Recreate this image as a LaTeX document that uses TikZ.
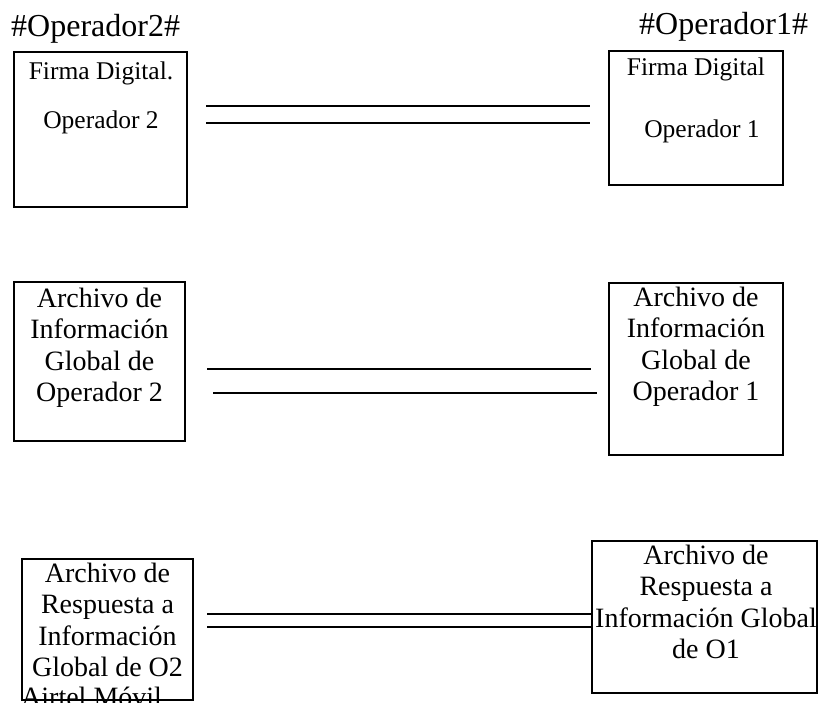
\documentclass[tikz,border=0pt]{standalone}
\usepackage{fontspec}
\setmainfont{Liberation Serif}
\usepackage{tikz}
\usetikzlibrary{positioning}
\tikzset{
  caja/.style={draw, rectangle, line width=1.8pt, inner sep=0pt, outer sep=0pt},
  texto/.style={align=center, inner sep=0pt, anchor=base, font=\fontsize{28}{31.5}\selectfont},
  textochico/.style={texto, font=\fontsize{25.5}{32}\selectfont},
  titulo/.style={anchor=base west, inner sep=0pt, font=\fontsize{32}{36}\selectfont},
  linea/.style={line width=2pt}
}

\begin{document}
\begin{tikzpicture}[x=1pt, y=-1pt]
   \useasboundingbox (0,0) rectangle (819,702);
   \clip (0,0) rectangle (819,702);
   % titulos
   \node[titulo] (tit2) at (11,36) {\#Operador2\#};
   \node[titulo] (tit1) at (639,34) {\#Operador1\#};
   % cajas
   \node[caja, minimum width=173, minimum height=155] (firma2) at (100.5,129.5) {};
   \node[caja, minimum width=174, minimum height=134] (firma1) at (696,118) {};
   \node[caja, minimum width=171, minimum height=159] (info2) at (99.5,361.5) {};
   \node[caja, minimum width=174, minimum height=172] (info1) at (696,369) {};
   \node[caja, minimum width=171, minimum height=141] (resp2) at (107.5,629.5) {};
   \node[caja, minimum width=225, minimum height=152] (resp1) at (704.5,617) {};
   % textos (base = ultima linea)
   \node[textochico] (tfirma2) at (101,128) {Firma Digital.\\[17pt]Operador 2};
   \node[textochico] (tfirma1) at (696,137) {Firma Digital\\[30pt]\hspace*{12pt}Operador 1};
   \node[texto] (tinfo2) at (99.5,401.5) {Archivo de\\Información\\Global de\\Operador 2};
   \node[texto] (tinfo1) at (696,400.5) {Archivo de\\Información\\Global de\\Operador 1};
   \node[texto] (tresp2) at (107.5,676.5) {Archivo de\\Respuesta a\\Información\\Global de O2};
   \node[texto, anchor=base west] (airtel) at (21,706) {Airtel Móvil};
   \node[texto] (tresp1) at (706,658.5) {Archivo de\\Respuesta a\\Información Global\\de O1};
   % extremos de las lineas
   \coordinate (a1) at (206,106);
   \coordinate (a2) at (590,106);
   \coordinate (b1) at (206,123);
   \coordinate (b2) at (590,123);
   \coordinate (c1) at (207,369);
   \coordinate (c2) at (591,369);
   \coordinate (d1) at (213,393);
   \coordinate (d2) at (597,393);
   \coordinate (e1) at (207,614);
   \coordinate (f1) at (207,627);
   \draw[linea] (a1) -- (a2);
   \draw[linea] (b1) -- (b2);
   \draw[linea] (c1) -- (c2);
   \draw[linea] (d1) -- (d2);
   \draw[linea] (e1) -- (e1 -| resp1.west);
   \draw[linea] (f1) -- (f1 -| resp1.west);
\end{tikzpicture}
\end{document}
